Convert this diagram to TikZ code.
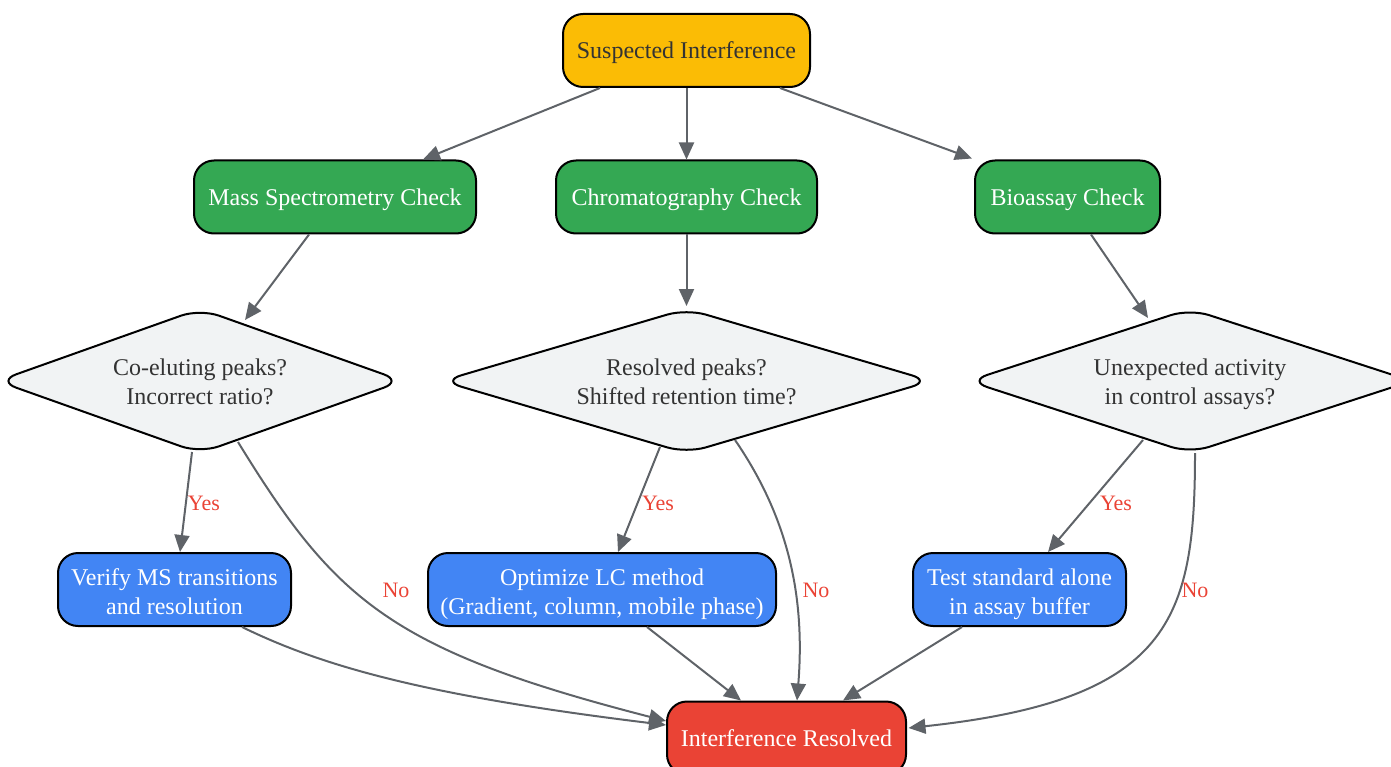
\documentclass[tikz,border=0pt]{standalone}
\usepackage{fontspec}
\setmainfont{Liberation Serif}
\usetikzlibrary{shapes.geometric,arrows.meta,calc}
\definecolor{cyellow}{HTML}{FBBC05}
\definecolor{cgreen}{HTML}{34A853}
\definecolor{cblue}{HTML}{4285F4}
\definecolor{cred}{HTML}{EA4335}
\definecolor{cgrey}{HTML}{F1F3F4}
\definecolor{cedge}{HTML}{5F6368}
\definecolor{ctext}{HTML}{333333}
\newcommand\topstrut{\rule{0pt}{21.4pt}}
\newcommand\botstrut{\rule[-5.2pt]{0pt}{5.2pt}}
\newcommand\upA{\rule{0pt}{25.4pt}}
\newcommand\upB{\rule{0pt}{23.4pt}}
\begin{document}
\begin{tikzpicture}[x=1pt,y=-1pt,
  box/.style={draw=black,line width=2pt,rounded corners=20pt,minimum height=73pt,inner sep=0pt,align=center,font=\fontsize{24}{29}\selectfont},
  onebox/.style={box,execute at begin node=\topstrut,execute at end node=\botstrut},
  startbox/.style={onebox,fill=cyellow,text=ctext},
  checkbox/.style={onebox,fill=cgreen,text=white},
  actbox/.style={box,fill=cblue,text=white},
  endbox/.style={onebox,fill=cred,text=white},
  decision/.style={shape=diamond,draw=black,line width=2pt,rounded corners=20pt,fill=cgrey,text=ctext,inner sep=0pt,minimum height=145pt,align=center,font=\fontsize{24}{29}\selectfont},
  arr/.style={draw=cedge,line width=2pt,-{Triangle[length=17pt,width=15pt]}},
  lbl/.style={text=cred,inner sep=0pt,font=\fontsize{22}{26}\selectfont}
]
\useasboundingbox (0,0) rectangle (1391,767);

\node[startbox,minimum width=247pt] (top) at (686.5,50.5) {Suspected Interference};
\node[checkbox,minimum width=282pt] (ms) at (335,197) {Mass Spectrometry Check};
\node[checkbox,minimum width=261pt] (chrom) at (686.5,197) {Chromatography Check};
\node[checkbox,minimum width=185pt] (bio) at (1067.5,197) {Bioassay Check};

\node[decision,minimum width=406pt,aspect=2.8] (d1) at (200,381) {\upB Co-eluting peaks?\\Incorrect ratio?\botstrut};
\node[decision,minimum width=490pt,aspect=3.38] (d2) at (686.5,381) {\upB Resolved peaks?\\Shifted retention time?\botstrut};
\node[decision,minimum width=444pt,aspect=3.06] (d3) at (1190,381) {\upB Unexpected activity\\in control assays?\botstrut};

\node[actbox,minimum width=233pt] (ver) at (174.5,589.5) {\upA Verify MS transitions\\and resolution\botstrut};
\node[actbox,minimum width=348pt] (opt) at (602,589.5) {\upA Optimize LC method\\(Gradient, column, mobile phase)\botstrut};
\node[actbox,minimum width=213pt] (tst) at (1019.5,589.5) {\upA Test standard alone\\in assay buffer\botstrut};

\node[endbox,minimum width=239pt] (res) at (786.5,738) {Interference Resolved};

% top to checks
\draw[arr] ($(top.south)+(-86.5,0)$) -- ($(ms.north)+(88,0)$);
\draw[arr] (top.south) -- (chrom.north);
\draw[arr] ($(top.south)+(93.5,0)$) -- ($(bio.north west)+(-2,-1)$);

% checks to decisions
\draw[arr] ($(ms.south)+(-26,0)$) -- ($(d1.center)+(45,-61)$);
\draw[arr] (chrom.south) -- ($(d2.center)+(0,-75)$);
\draw[arr] ($(bio.south)+(23.5,0)$) -- ($(d3.center)+(-42,-63)$);

% yes branches
\draw[arr] ($(d1.center)+(-8,71)$) -- ($(ver.north)+(5.5,0)$);
\draw[arr] ($(d2.center)+(-26.5,66)$) -- ($(opt.north)+(16,0)$);
\draw[arr] ($(d3.center)+(-47,59)$) -- ($(tst.north)+(28.5,0)$);

% no branches
\draw[arr] ($(d1.center)+(38,61)$) .. controls (335,600) and (390,650) .. ($(res.west)+(0,-17)$);
\draw[arr] ($(d2.center)+(48.5,59)$) .. controls (790,520) and (805,600) .. ($(res.north)+(10.5,0)$);
\draw[arr] ($(d3.center)+(5,72)$) .. controls (1195,620) and (1170,700) .. ($(res.east)+(1.5,-10)$);

% actions to resolved
\draw[arr] ($(ver.south)+(67.5,0)$) .. controls (320,665) and (420,695) .. ($(res.west)+(0,-13)$);
\draw[arr] ($(opt.south)+(45,0)$) -- ($(res.north)+(-45.5,0)$);
\draw[arr] ($(tst.south)+(-57.5,0)$) -- ($(res.north)+(56.5,0)$);

% labels
\node[lbl] (y1) at (204,503) {Yes};
\node[lbl] (y2) at (658,503) {Yes};
\node[lbl] (y3) at (1116,503) {Yes};
\node[lbl] (n1) at (396,590) {No};
\node[lbl] (n2) at (816,590) {No};
\node[lbl] (n3) at (1195,590) {No};
\end{tikzpicture}
\end{document}
